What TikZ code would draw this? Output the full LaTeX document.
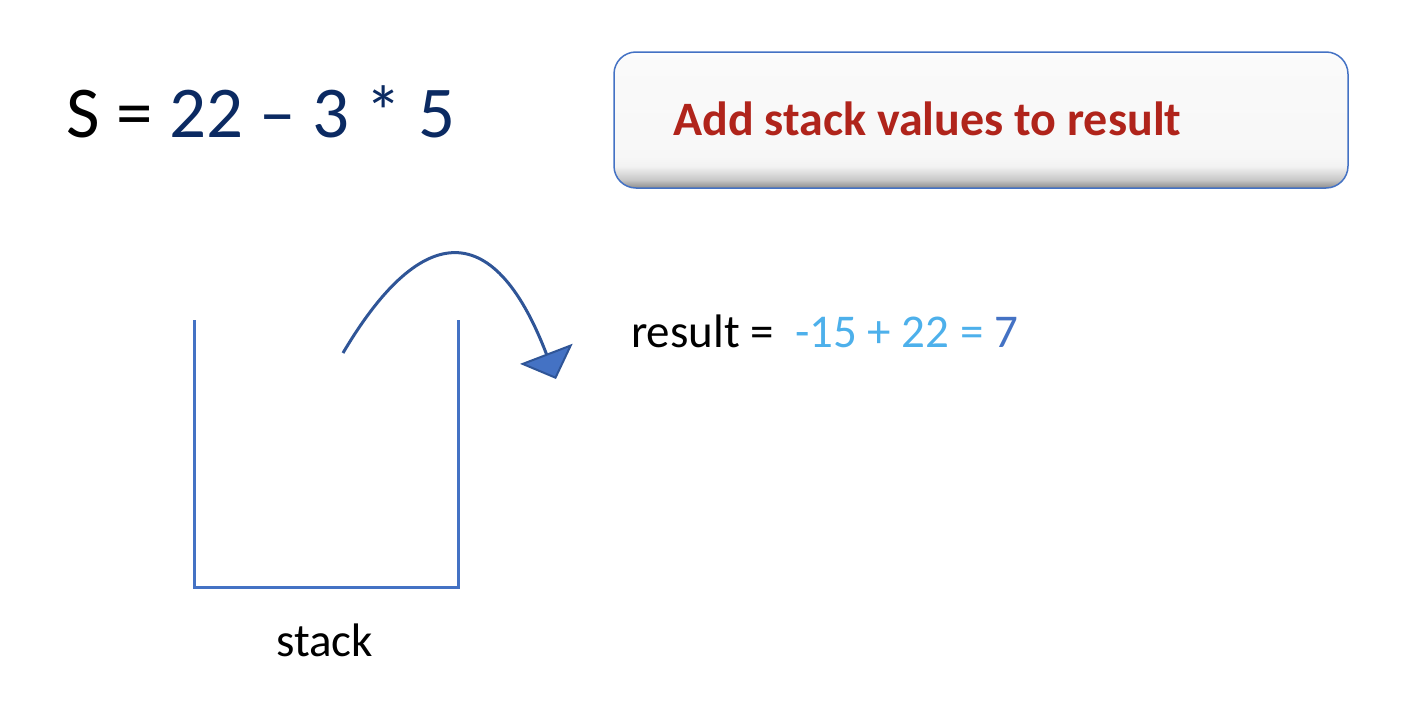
\documentclass[tikz,border=0pt]{standalone}
\usepackage{fontspec}
\setmainfont{Carlito}
\usetikzlibrary{arrows.meta}

\definecolor{navy}{HTML}{0B2A62}
\definecolor{taskred}{HTML}{B0241B}
\definecolor{sumblue}{HTML}{4DB0EB}
\definecolor{stackblue}{HTML}{4472C4}
\definecolor{curveblue}{HTML}{2F5597}

\pgfdeclareverticalshading{bevel}{100bp}{color(0bp)=(black!45); color(25bp)=(black!45);
    color(28bp)=(black!22); color(33bp)=(black!5); color(37bp)=(black!3);
    color(72bp)=(black!2); color(75bp)=(white); color(100bp)=(white)}

\begin{document}
\begin{tikzpicture}[x=1pt,y=-1pt,
    stackline/.style={draw=stackblue, line width=3pt},
    taskbox/.style={draw=stackblue, line width=1.5pt, rounded corners=22pt,
        shade, shading=bevel, minimum width=734pt, minimum height=136pt, inner sep=0pt},
    bigtext/.style={anchor=base west, inner sep=0pt, font=\fontsize{73}{80}\selectfont},
    midtext/.style={anchor=base west, inner sep=0pt, font=\fontsize{47}{52}\selectfont}]
    \useasboundingbox (0,0) rectangle (1414,720);

    % expression
    \node[bigtext] (expr) at (66,137) {S = \textcolor{navy}{22 – 3 * 5}};

    % task box
    \node[taskbox] (task) at (981,120) {};
    \node[anchor=base west, inner sep=0pt, text=taskred,
        font=\fontsize{48}{52}\selectfont\bfseries] (tasktext) at (673,135) {Add stack values to result};

    % stack
    \coordinate (stl) at (194,320);
    \coordinate (str) at (458,320);
    \draw[stackline] (stl) -- (194,587) -- (458,587) -- (str);
    \node[midtext] (stacklbl) at (276,656) {stack};

    % pop arrow
    \coordinate (arcstart) at (343,353);
    \coordinate (arcend) at (556,379);
    \draw[draw=curveblue, line width=3pt,
        -{Triangle[width=56pt, length=27pt, fill=stackblue, line width=2pt]}]
        (arcstart) .. controls (418,226) and (492,212) .. (arcend);

    % result
    \node[midtext] (result) at (631,347) {result =\ \ \textcolor{sumblue}{-15 + 22 =} \textcolor{stackblue}{7}};
\end{tikzpicture}
\end{document}
